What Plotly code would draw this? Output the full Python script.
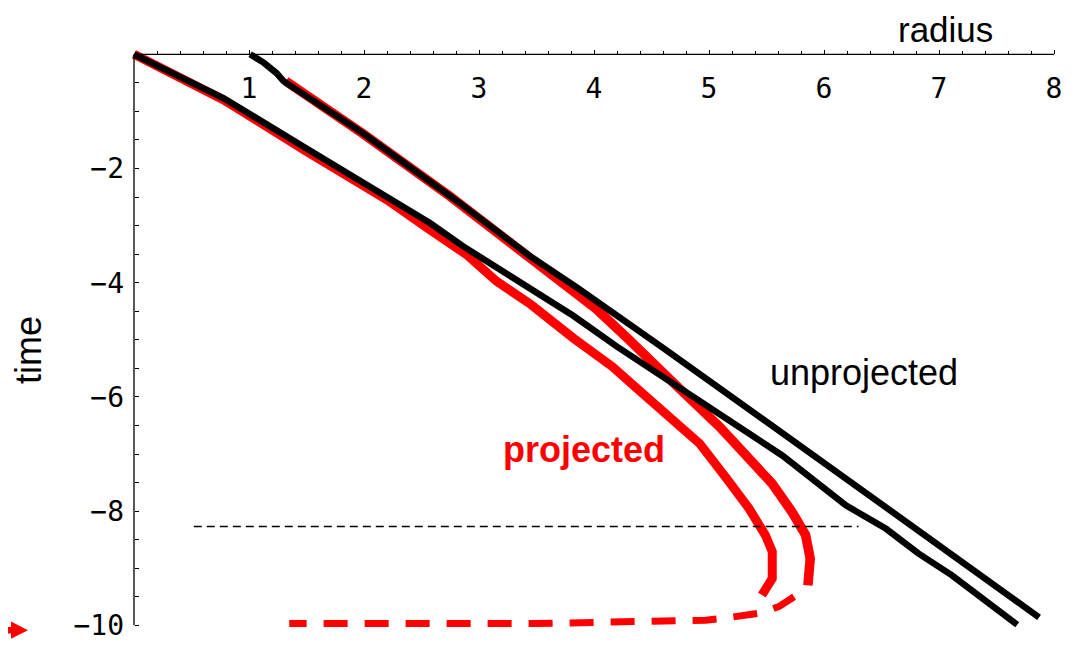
import plotly.graph_objects as go

# ---------------- data (radius, time) ----------------
blackA_r = [0.0, 0.78, 1.50, 2.00, 2.57, 2.86, 3.41, 3.82, 4.20, 4.63, 5.35, 5.64, 6.19, 6.54, 6.82, 7.11, 7.68]
blackA_t = [0.0, -0.77, -1.65, -2.26, -2.95, -3.36, -4.06, -4.58, -5.12, -5.69, -6.65, -7.03, -7.90, -8.31, -8.74, -9.12, -9.99]

blackB_r = [1.01, 1.13, 1.24, 1.30, 1.99, 2.83, 3.44, 3.87, 4.60, 4.93, 5.44, 6.19, 7.87]
blackB_t = [0.0, -0.15, -0.33, -0.47, -1.38, -2.60, -3.53, -4.11, -5.14, -5.62, -6.33, -7.43, -9.86]

redA_r = [0.0, 0.78, 1.50, 2.20, 2.57, 2.90, 3.15, 3.45, 3.82, 4.16, 4.39, 4.63, 4.92, 5.15, 5.35, 5.49, 5.55, 5.55, 5.46]
redA_t = [0.0, -0.80, -1.70, -2.55, -3.07, -3.52, -3.97, -4.38, -4.97, -5.47, -5.88, -6.30, -6.82, -7.42, -7.96, -8.42, -8.71, -9.18, -9.47]

redB_r = [1.32, 1.99, 2.75, 3.30, 3.73, 4.02, 4.28, 4.50, 4.73, 5.09, 5.32, 5.55, 5.72, 5.84, 5.88, 5.87, 5.86]
redB_t = [-0.47, -1.39, -2.49, -3.33, -4.00, -4.46, -4.95, -5.36, -5.83, -6.52, -7.03, -7.52, -8.01, -8.42, -8.83, -9.24, -9.30]

redDash_r = [5.74, 5.61, 5.46, 5.29, 5.12, 4.97, 4.70, 4.39, 4.20, 3.50, 1.35]
redDash_t = [-9.50, -9.67, -9.78, -9.84, -9.88, -9.91, -9.92, -9.93, -9.96, -9.97, -9.97]

cut_r = [0.52, 6.30]
cut_t = [-8.27, -8.27]

x_major = [1, 2, 3, 4, 5, 6, 7, 8]
x_minor = [round(i * 0.2, 1) for i in range(1, 40) if i % 5 != 0]
y_major = [-2, -4, -6, -8, -10]
y_major_text = ["\u22122", "\u22124", "\u22126", "\u22128", "\u221210"]
y_minor = [-(i * 0.5) for i in range(1, 20) if i % 4 != 0]

# ---------------- layout geometry (page pixels; page has an 8px body margin) ----------------
OFF = 8
W, H = 1072, 661
X0PX, XS = 134.0 - OFF, 115.0   # figure pixel of r=0, pixels per unit
Y0PX, YS = 54.3 - OFF, 57.1     # figure pixel of t=0, pixels per unit
ML, MR, MT, MB = 114, 14, 35, 32
PW, PH = W - ML - MR, H - MT - MB
xmin = (ML - X0PX) / XS
xmax = (W - MR - X0PX) / XS
ymax = (Y0PX - MT) / YS
ymin = -((H - MB) - Y0PX) / YS


def px(xp):
    return (xp - OFF - ML) / PW


def py(yp):
    return ((H - MB) - (yp - OFF)) / PH


RED = "#ff0000"
fig = go.Figure()

fig.add_trace(go.Scatter(x=redA_r, y=redA_t, mode="lines", line=dict(color=RED, width=9), hoverinfo="skip"))
fig.add_trace(go.Scatter(x=redB_r, y=redB_t, mode="lines", line=dict(color=RED, width=9.5), hoverinfo="skip"))
fig.add_trace(go.Scatter(x=redDash_r, y=redDash_t, mode="lines",
                         line=dict(color=RED, width=7, dash="24px,17px"), hoverinfo="skip"))
fig.add_trace(go.Scatter(x=blackA_r, y=blackA_t, mode="lines", line=dict(color="black", width=6.5), hoverinfo="skip"))
fig.add_trace(go.Scatter(x=blackB_r, y=blackB_t, mode="lines", line=dict(color="black", width=6.5), hoverinfo="skip"))
fig.add_trace(go.Scatter(x=cut_r, y=cut_t, mode="lines",
                         line=dict(color="black", width=1.3, dash="8px,5px"), hoverinfo="skip"))

# axis lines drawn at r=0 and t=0
fig.add_shape(type="line", x0=0, x1=8, y0=0, y1=0, xref="x", yref="y", line=dict(color="black", width=1.3))
fig.add_shape(type="line", x0=0, x1=0, y0=0, y1=-10, xref="x", yref="y", line=dict(color="black", width=1.3))

# red arrow at bottom-left
ax_pts = [(8, 627.0), (11, 627.0), (11, 621.5), (28, 630.2), (11, 638.8), (11, 633.4), (8, 633.4)]
path = "M " + " L ".join(f"{px(a):.5f},{py(b):.5f}" for a, b in ax_pts) + " Z"
fig.add_shape(type="path", path=path, xref="paper", yref="paper", fillcolor=RED, line=dict(width=0))

tick_font = dict(family="DejaVu Sans Mono", size=28, color="black")
fig.update_layout(
    width=W, height=H,
    margin=dict(l=ML, r=MR, t=MT, b=MB),
    plot_bgcolor="white", paper_bgcolor="white",
    showlegend=False,
    xaxis=dict(
        range=[xmin, xmax], side="top", anchor="free", position=(0 - ymin) / (ymax - ymin),
        showgrid=False, zeroline=False, showline=False,
        tickmode="array", tickvals=x_major, ticktext=[str(v) for v in x_major],
        ticks="outside", ticklen=4, tickwidth=1, tickcolor="black",
        ticklabelposition="inside", ticklabeloverflow="allow", ticklabelstandoff=20,
        tickfont=tick_font,
        minor=dict(tickmode="array", tickvals=x_minor, ticks="outside", ticklen=3, tickwidth=1, tickcolor="black"),
    ),
    yaxis=dict(
        range=[ymin, ymax], anchor="free", position=(0 - xmin) / (xmax - xmin), side="left",
        showgrid=False, zeroline=False, showline=False,
        tickmode="array", tickvals=y_major, ticktext=y_major_text,
        ticks="inside", ticklen=4, tickwidth=1, tickcolor="black",
        ticklabelstandoff=10,
        tickfont=tick_font,
        minor=dict(tickmode="array", tickvals=y_minor, ticks="inside", ticklen=4, tickwidth=1, tickcolor="black"),
    ),
    annotations=[
        dict(text="radius", x=px(945), y=py(29.5), xref="paper", yref="paper", showarrow=False,
             xanchor="center", yanchor="middle", font=dict(family="Liberation Sans", size=35, color="black")),
        dict(text="time", x=px(28), y=py(350), xref="paper", yref="paper", showarrow=False, textangle=-90,
             xanchor="center", yanchor="middle", font=dict(family="Liberation Sans", size=36, color="black")),
        dict(text="unprojected", x=px(864), y=py(372), xref="paper", yref="paper", showarrow=False,
             xanchor="center", yanchor="middle", font=dict(family="Liberation Sans", size=36, color="black")),
        dict(text="<b>projected</b>", x=px(584), y=py(449), xref="paper", yref="paper", showarrow=False,
             xanchor="center", yanchor="middle", font=dict(family="Liberation Sans", size=36, color=RED)),
    ],
)

fig.write_html("out.html")
